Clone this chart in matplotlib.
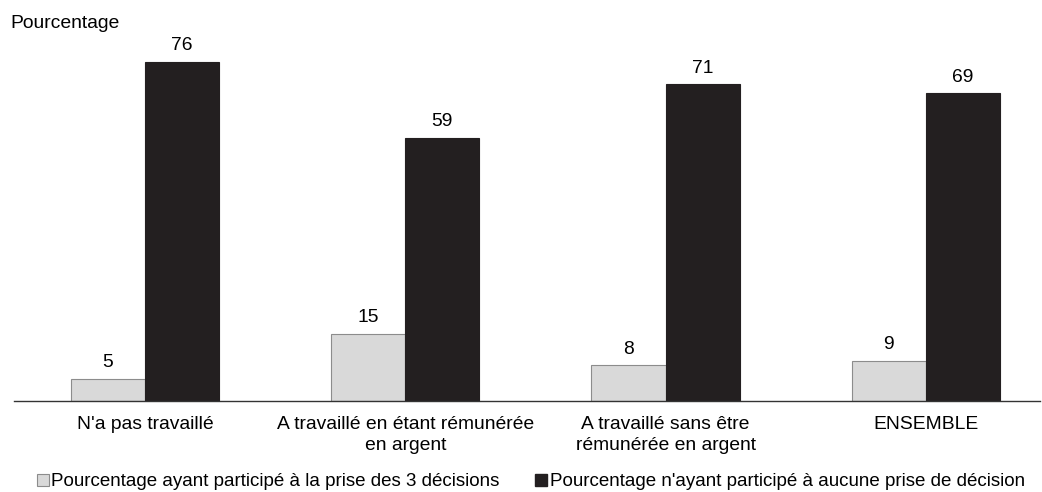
import numpy as np
from matplotlib import pyplot as plt
from matplotlib.patches import Patch

plt.rcParams['font.family'] = ['Liberation Sans', 'DejaVu Sans']

categories = ["N'a pas travaillé", "A travaillé en étant rémunérée\nen argent",
              "A travaillé sans être\nrémunérée en argent", "ENSEMBLE"]
trois_decisions = [5, 15, 8, 9]
aucune_decision = [76, 59, 71, 69]
series_labels = ["Pourcentage ayant participé à la prise des 3 décisions",
                 "Pourcentage n'ayant participé à aucune prise de décision"]

light = '#d9d9d9'
dark = '#231f20'
fs = 13.9

fig = plt.figure(figsize=(10.42, 4.92), dpi=100)
ax = fig.add_axes([14 / 1042, 91 / 492, 1026 / 1042, 371 / 492])

x = np.arange(len(categories))
w = 0.285
b1 = ax.bar(x - w / 2, trois_decisions, w, color=light, edgecolor='#8c8c8c', linewidth=0.8)
b2 = ax.bar(x + w / 2, aucune_decision, w, color=dark, edgecolor=dark, linewidth=0.8)

# étiquettes de valeur au-dessus des barres
for rect, v in zip(list(b1) + list(b2), trois_decisions + aucune_decision):
    ax.annotate(str(v), (rect.get_x() + rect.get_width() / 2, v),
                xytext=(0, 5.5), textcoords='offset points',
                ha='center', va='bottom', fontsize=fs)

ax.set_xlim(-0.503, 3.438)
ax.set_ylim(0, 83.2)
ax.set_yticks([])
ax.set_xticks(x)
ax.set_xticklabels(categories, fontsize=fs, linespacing=1.3)
ax.tick_params(axis='x', length=0, pad=11)
for side in ['top', 'right', 'left']:
    ax.spines[side].set_visible(False)
ax.spines['bottom'].set_color('#333333')
ax.spines['bottom'].set_linewidth(1.0)

fig.text(10 / 1042, 1 - 23 / 492, 'Pourcentage', fontsize=fs, va='center', ha='left')

handles = [Patch(facecolor=light, edgecolor='#8c8c8c', linewidth=0.8),
           Patch(facecolor=dark, edgecolor=dark)]
fig.legend(handles, series_labels, loc='center left', bbox_to_anchor=(37 / 1042, 1 - 482 / 492),
           ncol=2, frameon=False, fontsize=13.5, handlelength=0.62, handleheight=0.62,
           handletextpad=0.15, columnspacing=1.9, borderpad=0, borderaxespad=0)

plt.savefig('out.png', dpi=100)
plt.close()
